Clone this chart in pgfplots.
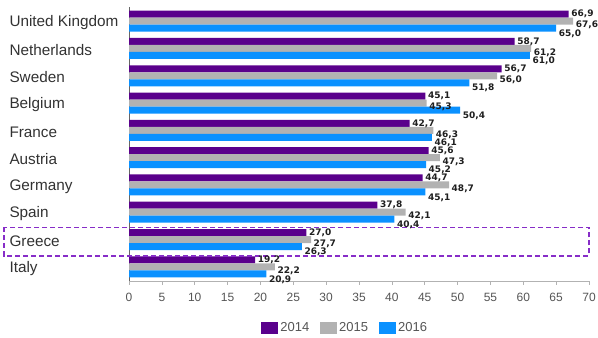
\documentclass[border=0pt]{standalone}
\usepackage{pgfplots}
\pgfplotsset{compat=1.18}
\usepackage{fontspec}
\setmainfont{Liberation Sans}
\newfontfamily\valuefont{DejaVu Sans}

\definecolor{c2014}{RGB}{90,0,140}
\definecolor{c2015}{RGB}{178,178,178}
\definecolor{c2016}{RGB}{10,145,255}
\definecolor{boxpurple}{RGB}{135,45,200}
\definecolor{ticktext}{RGB}{85,85,85}
\definecolor{labeltext}{RGB}{50,50,50}

\pgfplotstableread{
idx y2014 y2015 y2016
0 66.9 67.6 65.0
1 58.7 61.2 61.0
2 56.7 56.0 51.8
3 45.1 45.3 50.4
4 42.7 46.3 46.1
5 45.6 47.3 45.2
6 44.7 48.7 45.1
7 37.8 42.1 40.4
8 27.0 27.7 26.3
9 19.2 22.2 20.9
}\shares

\begin{document}
\begin{tikzpicture}
\begin{axis}[
  name=ax,
  scale only axis,
  width=460pt, height=274pt,
  xbar, bar width=7pt,
  y dir=reverse,
  xmin=0, xmax=70, ymin=-0.52, ymax=9.52,
  xtick={0,5,...,70},
  ytick={0,...,9},
  yticklabels={United Kingdom,Netherlands,Sweden,Belgium,France,Austria,Germany,Spain,Greece,Italy},
  yticklabel style={anchor=west, xshift=-119pt, yshift=-1.5pt, font=\fontsize{15.3}{17}\selectfont, text=labeltext},
  xticklabel style={font=\fontsize{12}{13}\selectfont, text=ticktext, yshift=-5pt},
  /pgf/number format/assume math mode=true,
  axis x line*=bottom,
  axis y line*=left,
  y axis line style={draw=black!60, line width=0.5pt},
  ytick style={draw=none},
  x axis line style={draw=black!30, line width=0.8pt},
  xtick style={draw=black!30, line width=0.6pt},
  tick align=outside,
  major tick length=4pt,
  clip=false,
  nodes near coords={\pgfmathprintnumber[fixed,fixed zerofill,precision=1,use comma,assume math mode=true]{\pgfplotspointmeta}},
  every node near coord/.append style={anchor=west, xshift=1.5pt, font=\valuefont\bfseries\fontsize{9}{10}\selectfont, text=black!88, inner sep=1pt},
  legend columns=3,
  legend style={at={(0.47,-0.17)}, anchor=center, draw=none, font=\fontsize{13}{14}\selectfont, text=ticktext,
    /tikz/every even column/.append style={column sep=9pt}},
  legend image code/.code={\fill[#1] (0pt,-6pt) rectangle (17pt,6pt);},
]
\addplot[fill=c2014, draw=none, bar shift=7pt, every node near coord/.append style={yshift=0pt}] table[x=y2014, y=idx] {\shares};
\addplot[fill=c2015, draw=none, bar shift=0pt, every node near coord/.append style={yshift=-4pt}] table[x=y2015, y=idx] {\shares};
\addplot[fill=c2016, draw=none, bar shift=-7pt, every node near coord/.append style={yshift=-5.5pt}] table[x=y2016, y=idx] {\shares};
\legend{2014,2015,2016}
% highlight frame around the Greece group
\draw[boxpurple, line width=1.3pt, dash pattern=on 5pt off 3pt]
  (axis cs:-19.0,7.55) rectangle (axis cs:70,8.6);
\end{axis}
% fixed page frame around the plot area
\pgfresetboundingbox
\path[use as bounding box] ([xshift=-129pt,yshift=-57pt]ax.south west) rectangle ([xshift=9pt,yshift=7pt]ax.north east);
\end{tikzpicture}
\end{document}
